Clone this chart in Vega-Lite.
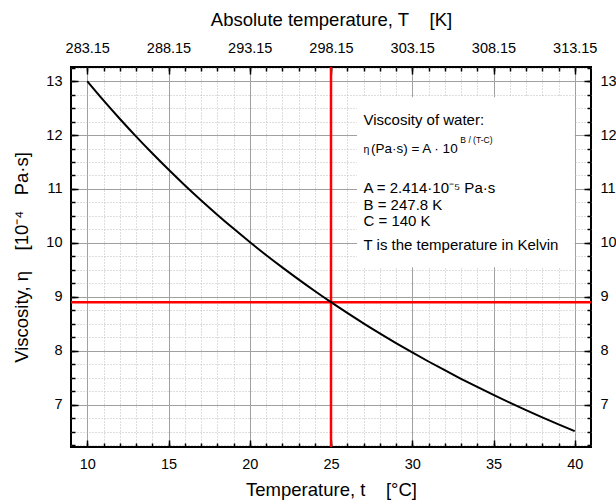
{
  "$schema": "https://vega.github.io/schema/vega-lite/v6.json",
  "width": 520,
  "height": 380,
  "autosize": {"type": "none"},
  "padding": {"left": 71, "top": 67, "right": 25, "bottom": 53},
  "datasets": {
    "curve": [
      {"t": 10, "eta": 12.996}, {"t": 11, "eta": 12.641}, {"t": 12, "eta": 12.301},
      {"t": 13, "eta": 11.974}, {"t": 14, "eta": 11.661}, {"t": 15, "eta": 11.360},
      {"t": 16, "eta": 11.070}, {"t": 17, "eta": 10.792}, {"t": 18, "eta": 10.524},
      {"t": 19, "eta": 10.266}, {"t": 20, "eta": 10.018}, {"t": 21, "eta": 9.778},
      {"t": 22, "eta": 9.548}, {"t": 23, "eta": 9.326}, {"t": 24, "eta": 9.111},
      {"t": 25, "eta": 8.904}, {"t": 26, "eta": 8.705}, {"t": 27, "eta": 8.512},
      {"t": 28, "eta": 8.326}, {"t": 29, "eta": 8.146}, {"t": 30, "eta": 7.972},
      {"t": 31, "eta": 7.804}, {"t": 32, "eta": 7.642}, {"t": 33, "eta": 7.484},
      {"t": 34, "eta": 7.332}, {"t": 35, "eta": 7.185}, {"t": 36, "eta": 7.042},
      {"t": 37, "eta": 6.904}, {"t": 38, "eta": 6.770}, {"t": 39, "eta": 6.640},
      {"t": 40, "eta": 6.514}
    ],
    "box": [{"x1": 26.6, "x2": 40, "y1": 9.55, "y2": 12.7}],
    "vline": [{"t": 25}],
    "hline": [{"eta": 8.9}],
    "texts": [
      {"tx": 27.0, "ty": 12.28, "label": "Viscosity of water:"},
      {"tx": 27.0, "ty": 11.02, "label": "A = 2.414·10⁻⁵ Pa·s"},
      {"tx": 27.0, "ty": 10.70, "label": "B = 247.8 K"},
      {"tx": 27.0, "ty": 10.41, "label": "C = 140 K"},
      {"tx": 27.0, "ty": 9.96, "label": "T is the temperature in Kelvin"}
    ],
    "formula": [{"tx": 27.46, "ty": 11.74, "label": "(Pa·s) = A · 10"}],
    "small": [
      {"tx": 27.0, "ty": 11.73, "label": "η"}
    ],
    "sup": [{"tx": 32.96, "ty": 11.91, "label": "B / (T-C)"}]
  },
  "resolve": {"axis": {"x": "independent", "y": "independent"}},
  "layer": [
    {
      "data": {"name": "curve"},
      "mark": {"type": "point", "opacity": 0},
      "encoding": {
        "x": {"field": "t", "type": "quantitative", "scale": {"domain": [9, 41], "nice": false, "zero": false},
          "axis": {"orient": "bottom", "values": [10,11,12,13,14,15,16,17,18,19,20,21,22,23,24,25,26,27,28,29,30,31,32,33,34,35,36,37,38,39,40],
            "labels": false, "title": null, "grid": true, "gridColor": "#bdbdbd", "gridDash": [1, 2], "gridWidth": 1,
            "tickSize": -4, "tickWidth": 1.5, "tickColor": "black"}},
        "y": {"field": "eta", "type": "quantitative", "scale": {"domain": [6.22, 13.26], "nice": false, "zero": false},
          "axis": {"orient": "left", "values": [6.25,6.5,6.75,7,7.25,7.5,7.75,8,8.25,8.5,8.75,9,9.25,9.5,9.75,10,10.25,10.5,10.75,11,11.25,11.5,11.75,12,12.25,12.5,12.75,13,13.25],
            "labels": false, "title": null, "grid": true, "gridColor": "#bdbdbd", "gridDash": [1, 2], "gridWidth": 1,
            "tickSize": -4, "tickWidth": 1.5, "tickColor": "black"}}
      }
    },
    {
      "data": {"name": "curve"},
      "mark": {"type": "point", "opacity": 0},
      "encoding": {
        "x": {"field": "t", "type": "quantitative", "scale": {"domain": [9, 41], "nice": false, "zero": false},
          "axis": {"orient": "top", "values": [10,11,12,13,14,15,16,17,18,19,20,21,22,23,24,25,26,27,28,29,30,31,32,33,34,35,36,37,38,39,40],
            "labels": false, "title": null, "grid": false, "tickSize": -4, "tickWidth": 1.5, "tickColor": "black"}},
        "y": {"field": "eta", "type": "quantitative", "scale": {"domain": [6.22, 13.26], "nice": false, "zero": false},
          "axis": {"orient": "right", "values": [6.25,6.5,6.75,7,7.25,7.5,7.75,8,8.25,8.5,8.75,9,9.25,9.5,9.75,10,10.25,10.5,10.75,11,11.25,11.5,11.75,12,12.25,12.5,12.75,13,13.25],
            "labels": false, "title": null, "grid": false, "tickSize": -4, "tickWidth": 1.5, "tickColor": "black"}}
      }
    },
    {
      "data": {"name": "curve"},
      "mark": {"type": "point", "opacity": 0},
      "encoding": {
        "x": {"field": "t", "type": "quantitative", "scale": {"domain": [9, 41], "nice": false, "zero": false},
          "axis": {"orient": "top", "values": [10, 15, 20, 25, 30, 35, 40], "labelExpr": "format(datum.value + 273.15, '.2f')",
            "title": "Absolute temperature, T\u00a0\u00a0\u00a0\u00a0[K]", "grid": false, "tickSize": -7, "tickWidth": 1.5, "tickColor": "black",
            "labelPadding": 19, "titlePadding": 11, "labelFlush": false, "labelOverlap": false}},
        "y": {"field": "eta", "type": "quantitative", "scale": {"domain": [6.22, 13.26], "nice": false, "zero": false},
          "axis": {"orient": "right", "values": [7, 8, 9, 10, 11, 12, 13], "title": null, "grid": false,
            "tickSize": -7, "tickWidth": 1.5, "tickColor": "black", "labelPadding": 16, "labelFlush": false, "labelOverlap": false}}
      }
    },
    {
      "data": {"name": "curve"},
      "mark": {"type": "point", "opacity": 0},
      "encoding": {
        "x": {"field": "t", "type": "quantitative", "scale": {"domain": [9, 41], "nice": false, "zero": false},
          "axis": {"orient": "bottom", "values": [10, 15, 20, 25, 30, 35, 40], "title": "Temperature, t\u00a0\u00a0\u00a0\u00a0[°C]",
            "grid": true, "gridColor": "#a0a0a0", "gridWidth": 1, "tickSize": -7, "tickWidth": 1.5, "tickColor": "black",
            "labelPadding": 17, "titlePadding": 10, "labelFlush": false, "labelOverlap": false}},
        "y": {"field": "eta", "type": "quantitative", "scale": {"domain": [6.22, 13.26], "nice": false, "zero": false},
          "axis": {"orient": "left", "values": [7, 8, 9, 10, 11, 12, 13], "title": "Viscosity, η\u00a0\u00a0\u00a0\u00a0[10⁻⁴\u00a0\u00a0\u00a0Pa·s]",
            "grid": true, "gridColor": "#a0a0a0", "gridWidth": 1, "tickSize": -7, "tickWidth": 1.5, "tickColor": "black",
            "labelPadding": 16, "titlePadding": 14, "labelFlush": false, "labelOverlap": false}}
      }
    },
    {
      "data": {"name": "box"},
      "mark": {"type": "rect", "fill": "white", "stroke": null},
      "encoding": {
        "x": {"field": "x1", "type": "quantitative", "scale": {"domain": [9, 41], "nice": false, "zero": false}, "axis": null},
        "x2": {"field": "x2"},
        "y": {"field": "y1", "type": "quantitative", "scale": {"domain": [6.22, 13.26], "nice": false, "zero": false}, "axis": null},
        "y2": {"field": "y2"}
      }
    },
    {
      "data": {"name": "vline"},
      "mark": {"type": "rule", "color": "#ff0000", "strokeWidth": 2.5},
      "encoding": {
        "x": {"field": "t", "type": "quantitative", "scale": {"domain": [9, 41], "nice": false, "zero": false}, "axis": null}
      }
    },
    {
      "data": {"name": "hline"},
      "mark": {"type": "rule", "color": "#ff0000", "strokeWidth": 2.5},
      "encoding": {
        "y": {"field": "eta", "type": "quantitative", "scale": {"domain": [6.22, 13.26], "nice": false, "zero": false}, "axis": null}
      }
    },
    {
      "data": {"name": "curve"},
      "mark": {"type": "line", "color": "black", "strokeWidth": 2, "interpolate": "monotone"},
      "encoding": {
        "x": {"field": "t", "type": "quantitative", "scale": {"domain": [9, 41], "nice": false, "zero": false}, "axis": null},
        "y": {"field": "eta", "type": "quantitative", "scale": {"domain": [6.22, 13.26], "nice": false, "zero": false}, "axis": null}
      }
    },
    {
      "data": {"name": "texts"},
      "mark": {"type": "text", "align": "left", "baseline": "middle", "fontSize": 15, "font": "Liberation Sans", "color": "black"},
      "encoding": {
        "x": {"field": "tx", "type": "quantitative", "scale": {"domain": [9, 41], "nice": false, "zero": false}, "axis": null},
        "y": {"field": "ty", "type": "quantitative", "scale": {"domain": [6.22, 13.26], "nice": false, "zero": false}, "axis": null},
        "text": {"field": "label"}
      }
    },
    {
      "data": {"name": "formula"},
      "mark": {"type": "text", "align": "left", "baseline": "middle", "fontSize": 13.5, "font": "Liberation Sans", "color": "black"},
      "encoding": {
        "x": {"field": "tx", "type": "quantitative", "scale": {"domain": [9, 41], "nice": false, "zero": false}, "axis": null},
        "y": {"field": "ty", "type": "quantitative", "scale": {"domain": [6.22, 13.26], "nice": false, "zero": false}, "axis": null},
        "text": {"field": "label"}
      }
    },
    {
      "data": {"name": "small"},
      "mark": {"type": "text", "align": "left", "baseline": "middle", "fontSize": 10.5, "font": "Liberation Sans", "color": "black"},
      "encoding": {
        "x": {"field": "tx", "type": "quantitative", "scale": {"domain": [9, 41], "nice": false, "zero": false}, "axis": null},
        "y": {"field": "ty", "type": "quantitative", "scale": {"domain": [6.22, 13.26], "nice": false, "zero": false}, "axis": null},
        "text": {"field": "label"}
      }
    },
    {
      "data": {"name": "sup"},
      "mark": {"type": "text", "align": "left", "baseline": "middle", "fontSize": 8.5, "font": "Liberation Sans", "color": "black"},
      "encoding": {
        "x": {"field": "tx", "type": "quantitative", "scale": {"domain": [9, 41], "nice": false, "zero": false}, "axis": null},
        "y": {"field": "ty", "type": "quantitative", "scale": {"domain": [6.22, 13.26], "nice": false, "zero": false}, "axis": null},
        "text": {"field": "label"}
      }
    }
  ],
  "config": {
    "font": "Liberation Sans",
    "background": "white",
    "view": {"stroke": "black", "strokeWidth": 2},
    "axis": {
      "domain": false,
      "labelFont": "Liberation Sans",
      "titleFont": "Liberation Sans",
      "labelFontSize": 14.5,
      "titleFontSize": 18.5,
      "titleFontWeight": "normal",
      "labelColor": "black",
      "titleColor": "black"
    }
  }
}
